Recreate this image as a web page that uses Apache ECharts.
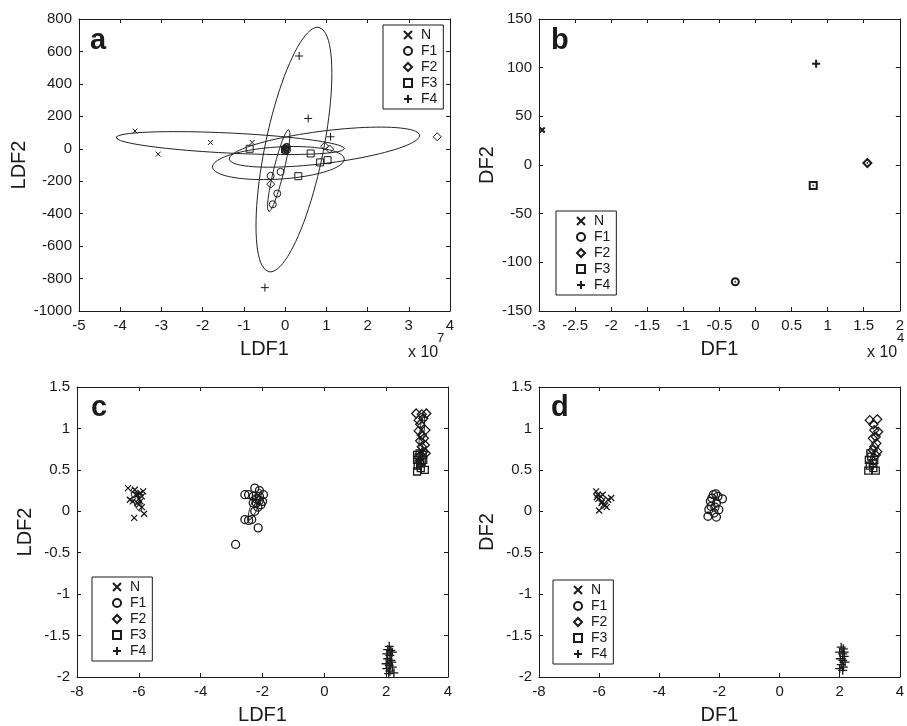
<!DOCTYPE html>
<html>
<head>
<meta charset="utf-8">
<script src="https://cdn.jsdelivr.net/npm/echarts@6/dist/echarts.min.js"></script>
<style>
  html, body { margin: 0; padding: 0; background: #fff; }
  #main { width: 907px; height: 726px; }
</style>
</head>
<body>
<div id="main"></div>
<script>
// panel a : LDF1 (x 10^7) vs LDF2
var a_N  = [[-3.64, 109], [-3.08, -33], [-1.81, 39], [-0.80, 39], [0.02, 2]];
var a_F1 = [[-0.35, -167], [-0.11, -142], [-0.19, -276], [-0.30, -342], [0.0, 0], [0.03, 8], [0.05, -6], [0.01, -10], [0.04, 12]];
var a_F2 = [[3.69, 74], [0.96, 16], [1.08, -2], [-0.35, -218], [0.01, 3]];
var a_F3 = [[-0.86, 0], [0.62, -29], [0.85, -84], [1.03, -70], [0.32, -169], [0.0, -5]];
var a_F4 = [[0.34, 572], [0.56, 187], [1.10, 74], [-0.49, -856], [0.02, 0]];
// ellipses: centre x, centre y, semi-diameter u (x, y), conjugate v (x, y)
var a_ell = [
  [-1.33, 35, 2.77, -34, 0, -62],
  [-0.155, -135, 0.243, 253, 0.121, -7],
  [0.955, 10, 2.31, 74, 0.049, -99],
  [-0.163, -88, 1.60, 25, 0.024, -99],
  [0.214, -5, 0.607, 753, 0.692, -36]
];

// panel b : DF1 (x 10^4) vs DF2
var b_N  = [[-2.955, 36]];
var b_F1 = [[-0.28, -120]];
var b_F2 = [[1.55, 2]];
var b_F3 = [[0.80, -21]];
var b_F4 = [[0.84, 104]];

// panel c : LDF1 vs LDF2
var c_N  = [[-6.35, 0.28], [-6.29, 0.14], [-6.2, 0.12], [-6.15, -0.08], [-6.13, 0.26], [-6.05, 0.2], [-6.0, 0.15], [-5.95, 0.22],
            [-5.9, 0.18], [-5.86, 0.24], [-5.83, -0.03], [-5.9, 0.05], [-6.0, 0.08], [-6.1, 0.2], [-5.95, 0.12], [-6.05, 0.1]];
var c_F1 = [[-2.87, -0.4], [-2.57, 0.2], [-2.45, 0.2], [-2.3, 0.18], [-2.25, 0.28], [-2.1, 0.25], [-1.97, 0.2], [-2.1, 0.13],
            [-2.2, 0.1], [-2.05, 0.08], [-2.15, 0.05], [-2.3, 0.1], [-2.25, 0.0], [-2.57, -0.1], [-2.45, -0.11], [-2.35, -0.1],
            [-2.14, -0.2], [-2.2, 0.15], [-2.1, 0.18], [-2.0, 0.12]];
var c_F2 = [[2.97, 1.18], [3.15, 1.17], [3.3, 1.18], [3.05, 1.1], [3.2, 1.12], [3.1, 1.05], [3.27, 0.98], [3.05, 0.97],
            [3.15, 0.92], [3.22, 0.88], [3.1, 0.85], [3.25, 0.8], [3.15, 0.78], [3.2, 0.72], [3.28, 0.7], [3.12, 0.68]];
var c_F3 = [[3.0, 0.48], [3.25, 0.5], [3.02, 0.55], [3.1, 0.58], [3.0, 0.62], [3.15, 0.6], [3.05, 0.65], [3.2, 0.62],
            [3.08, 0.7], [3.0, 0.68], [3.12, 0.52], [3.18, 0.68]];
var c_F4 = [[2.1, -1.63], [2.05, -1.67], [2.15, -1.68], [2.02, -1.72], [2.12, -1.74], [2.2, -1.7], [2.05, -1.78], [2.15, -1.8],
            [2.0, -1.84], [2.1, -1.86], [2.2, -1.88], [2.02, -1.9], [2.12, -1.93], [2.25, -1.95], [2.08, -1.96], [2.18, -1.82]];
var c_ell = [
  [-6.08, 0.14, 0.16, -0.13, 0.05, 0.06],
  [-2.25, 0.08, 0.2, 0.18, 0.07, -0.05],
  [3.15, 0.92, 0.06, 0.26, 0.07, 0],
  [3.08, 0.6, 0.08, 0.1, 0.06, -0.03],
  [2.1, -1.79, 0.03, 0.16, 0.07, 0]
];

// panel d : DF1 vs DF2
var d_N  = [[-6.1, 0.24], [-6.05, 0.2], [-6.0, 0.01], [-5.95, 0.18], [-5.9, 0.12], [-5.85, 0.08], [-5.8, 0.07], [-5.75, 0.05],
            [-5.6, 0.16], [-5.7, 0.14], [-6.02, 0.15], [-5.92, 0.1], [-6.08, 0.17], [-5.88, 0.2]];
var d_F1 = [[-2.38, -0.06], [-2.1, -0.07], [-1.9, 0.15], [-2.2, 0.2], [-2.3, 0.12], [-2.15, 0.05], [-2.25, 0.16], [-2.05, 0.18],
            [-2.35, 0.02], [-2.1, 0.1], [-2.28, 0.06], [-2.02, 0.02], [-2.18, -0.02], [-2.12, 0.21]];
var d_F2 = [[3.0, 1.1], [3.25, 1.11], [3.12, 1.05], [3.28, 0.96], [3.15, 0.98], [3.2, 0.9], [3.1, 0.88], [3.22, 0.82],
            [3.15, 0.78], [3.25, 0.72], [3.1, 0.74], [3.2, 0.68]];
var d_F3 = [[2.95, 0.49], [3.2, 0.49], [3.0, 0.55], [3.1, 0.58], [2.97, 0.62], [3.05, 0.66], [3.15, 0.62], [3.02, 0.7], [3.12, 0.52]];
var d_F4 = [[2.05, -1.64], [2.12, -1.66], [2.0, -1.7], [2.1, -1.72], [2.15, -1.75], [2.02, -1.78], [2.1, -1.8], [2.18, -1.82],
            [2.05, -1.85], [2.12, -1.88], [2.0, -1.9], [2.1, -1.92], [2.15, -1.7]];

var groups = ['N', 'F1', 'F2', 'F3', 'F4'];
var FONT = '"Liberation Sans", Arial, sans-serif';
var INK = '#1a1a1a';

var symbols = {
  N:  'path://M0,0L10,10M10,0L0,10',
  F1: 'circle',
  F2: 'diamond',
  F3: 'rect',
  F4: 'path://M5,0L5,10M0,5L10,5'
};
var sizes = { N: 5, F1: 7, F2: 8, F3: 7, F4: 8 };

var panels = [
  { grid: { left: 79, top: 19, width: 371, height: 292 },
    x: [-5, 4, 1], y: [-1000, 800, 200], xName: 'LDF1', yName: 'LDF2',
    data: [a_N, a_F1, a_F2, a_F3, a_F4], ell: a_ell,
    legend: { left: 383, top: 25 } },
  { grid: { left: 539, top: 19, width: 371, height: 292 },
    x: [-3, 2, 0.5], y: [-150, 150, 50], xName: 'DF1', yName: 'DF2',
    data: [b_N, b_F1, b_F2, b_F3, b_F4], ell: [],
    legend: { left: 556, top: 211 } },
  { grid: { left: 77, top: 387, width: 371, height: 291 },
    x: [-8, 4, 2], y: [-2, 1.5, 0.5], xName: 'LDF1', yName: 'LDF2',
    data: [c_N, c_F1, c_F2, c_F3, c_F4], ell: c_ell,
    legend: { left: 92, top: 577 } },
  { grid: { left: 539, top: 387, width: 369, height: 291 },
    x: [-8, 4, 2], y: [-2, 1.5, 0.5], xName: 'DF1', yName: 'DF2',
    data: [d_N, d_F1, d_F2, d_F3, d_F4], ell: [],
    legend: { left: 553, top: 580 } }
];

function ellipsePoints(e) {
  var pts = [];
  for (var k = 0; k <= 90; k++) {
    var t = k / 90 * Math.PI * 2;
    pts.push([e[0] + e[2] * Math.cos(t) + e[4] * Math.sin(t),
              e[1] + e[3] * Math.cos(t) + e[5] * Math.sin(t)]);
  }
  return pts;
}

function axis(gi, r, pos, main, name, gap) {
  return {
    type: 'value', gridIndex: gi, position: pos,
    min: r[0], max: r[1], interval: r[2],
    axisLine: { show: true, onZero: false, lineStyle: { color: INK, width: 1 } },
    axisTick: { show: true, inside: true, length: 4, lineStyle: { color: INK } },
    axisLabel: { show: main, color: INK, fontSize: 15, fontFamily: FONT, margin: 7,
                 showMinLabel: true, showMaxLabel: true,
                 formatter: function (v) { return String(v); } },
    splitLine: { show: false },
    name: main ? name : '',
    nameLocation: 'middle', nameGap: gap,
    nameTextStyle: { color: INK, fontSize: 20, fontFamily: FONT }
  };
}

var option = {
  animation: false,
  backgroundColor: '#fff',
  grid: [], xAxis: [], yAxis: [], legend: [], series: [], graphic: []
};

panels.forEach(function (p, gi) {
  option.grid.push(p.grid);
  option.xAxis.push(axis(gi, p.x, 'bottom', true, p.xName, 28));
  option.xAxis.push(axis(gi, p.x, 'top', false));
  option.yAxis.push(axis(gi, p.y, 'left', true, p.yName, 42));
  option.yAxis.push(axis(gi, p.y, 'right', false));

  option.legend.push({
    data: groups, orient: 'vertical', left: p.legend.left, top: p.legend.top,
    backgroundColor: '#fff', borderColor: INK, borderWidth: 1,
    padding: [3, 6, 3, 20], itemGap: 2, itemWidth: 8, itemHeight: 8,
    selectedMode: false,
    textStyle: { color: INK, fontSize: 14, fontFamily: FONT, lineHeight: 14, padding: [0, 0, 0, 4] }
  });

  p.ell.forEach(function (e) {
    option.series.push({
      type: 'line', xAxisIndex: gi * 2, yAxisIndex: gi * 2,
      data: ellipsePoints(e), showSymbol: false, silent: true, z: 1,
      lineStyle: { color: '#222', width: 1 }
    });
  });

  groups.forEach(function (g, k) {
    var bw = gi === 1 ? 2 : (gi >= 2 ? 1.3 : 1);
    option.series.push({
      name: g, type: 'scatter', xAxisIndex: gi * 2, yAxisIndex: gi * 2,
      data: p.data[k], symbol: symbols[g], symbolSize: sizes[g] + (gi >= 2 && g !== 'F3' ? 1 : 0),
      z: 3,
      itemStyle: { color: 'rgba(0,0,0,0)', borderColor: INK, borderWidth: bw, opacity: 1 }
    });
  });
});

// centre dots of the overlapping group means in panel b
option.series.push({
  type: 'scatter', xAxisIndex: 2, yAxisIndex: 2, symbol: 'circle', symbolSize: 2, z: 4,
  data: [b_F1[0], b_F2[0], b_F3[0]], itemStyle: { color: INK }
});

var labels = [['a', 90, 26], ['b', 551, 26], ['c', 91, 393], ['d', 551, 393]];
labels.forEach(function (l) {
  option.graphic.push({
    type: 'text', x: l[1], y: l[2],
    style: { text: l[0], fill: INK, font: 'bold 29px ' + FONT, verticalAlign: 'top' }
  });
});
[['7', 408, 437], ['4', 867, 897]].forEach(function (m) {
  option.graphic.push({ type: 'text', x: m[1], y: 345,
    style: { text: 'x 10', fill: INK, font: '16px ' + FONT, verticalAlign: 'top' } });
  option.graphic.push({ type: 'text', x: m[2], y: 332,
    style: { text: m[0], fill: INK, font: '13px ' + FONT, verticalAlign: 'top' } });
});

var chart = echarts.init(document.getElementById('main'), null, { renderer: 'canvas' });
chart.setOption(option);
</script>
</body>
</html>
